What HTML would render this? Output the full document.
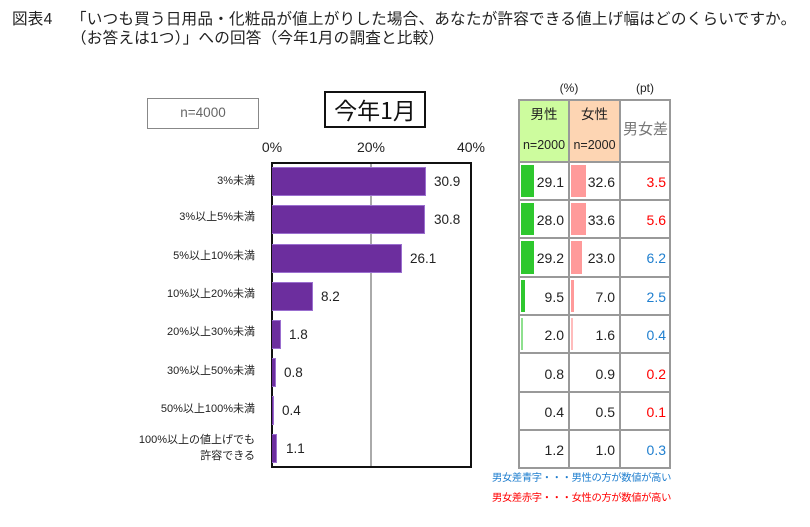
<!DOCTYPE html>
<html><head><meta charset="utf-8">
<style>
*{margin:0;padding:0;box-sizing:border-box}
body{width:810px;height:527px;background:#fff;position:relative;overflow:hidden;font-family:"Liberation Sans","Noto Sans CJK JP",sans-serif;color:#222}
.a{position:absolute;white-space:nowrap}
.t{font-size:15.6px;line-height:19px;letter-spacing:0.2px}
.lab{font-size:11px;line-height:13px;text-align:right;width:130px;left:125px}
.bar{position:absolute;left:272px;height:29px;background:#6c2e9e;border:1px solid #9b6fcf;border-left:none}
.val{font-size:13.5px;line-height:16px}
.ax{font-size:14px;line-height:16px;text-align:center;width:60px}
.num{font-size:14px;line-height:16px;text-align:right;width:45px}
.g{position:absolute;background:#2ec82e}
.p{position:absolute;background:#ff9a9a}
.r{color:#ff0000}.b{color:#1f7fcf}
</style></head><body>
<div class="a t" style="left:12px;top:10px">図表4</div>
<div class="a t" style="left:71px;top:10px">「いつも買う日用品・化粧品が値上がりした場合、あなたが許容できる値上げ幅はどのくらいですか。</div>
<div class="a t" style="left:71px;top:29px">（お答えは1つ）」への回答（今年1月の調査と比較）</div>

<div class="a" style="left:147px;top:98px;width:112px;height:31px;border:1.5px solid #888;font-size:13.5px;line-height:28px;text-align:center;color:#666">n=4000</div>
<div class="a" style="left:324px;top:91px;width:102px;height:37px;border:2px solid #111;font-size:23px;line-height:33px;text-align:center;color:#111;font-family:'Noto Sans CJK JP','Liberation Sans',sans-serif">今年1月</div>

<div class="a ax" style="left:242px;top:139px">0%</div>
<div class="a ax" style="left:341px;top:139px">20%</div>
<div class="a ax" style="left:441px;top:139px">40%</div>

<!-- plot -->
<div class="a" style="left:370px;top:163px;width:2px;height:304px;background:#aaa"></div>
<div class="a" style="left:271px;top:162px;width:201px;height:306px;border:2px solid #111"></div>

<div class="bar" style="top:167px;width:154px"></div>
<div class="bar" style="top:205px;width:153px"></div>
<div class="bar" style="top:244px;width:130px"></div>
<div class="bar" style="top:282px;width:41px"></div>
<div class="bar" style="top:320px;width:9px"></div>
<div class="bar" style="top:358px;width:4px"></div>
<div class="bar" style="top:396px;width:2px"></div>
<div class="bar" style="top:434px;width:5px"></div>

<div class="a val" style="left:434px;top:174px">30.9</div>
<div class="a val" style="left:434px;top:212px">30.8</div>
<div class="a val" style="left:410px;top:251px">26.1</div>
<div class="a val" style="left:321px;top:289px">8.2</div>
<div class="a val" style="left:289px;top:327px">1.8</div>
<div class="a val" style="left:284px;top:365px">0.8</div>
<div class="a val" style="left:282px;top:403px">0.4</div>
<div class="a val" style="left:286px;top:441px">1.1</div>

<div class="a lab" style="top:175px">3%未満</div>
<div class="a lab" style="top:211px">3%以上5%未満</div>
<div class="a lab" style="top:250px">5%以上10%未満</div>
<div class="a lab" style="top:288px">10%以上20%未満</div>
<div class="a lab" style="top:326px">20%以上30%未満</div>
<div class="a lab" style="top:365px">30%以上50%未満</div>
<div class="a lab" style="top:403px">50%以上100%未満</div>
<div class="a lab" style="top:432px;line-height:16px">100%以上の値上げでも<br>許容できる</div>

<!-- table -->
<div class="a" style="left:552px;top:81px;width:34px;font-size:12px;line-height:14px;text-align:center">(%)</div>
<div class="a" style="left:627px;top:81px;width:36px;font-size:12px;line-height:14px;text-align:center">(pt)</div>

<div class="a" style="left:519px;top:100px;width:50px;height:62px;background:#cdfc9e"></div>
<div class="a" style="left:569px;top:100px;width:51px;height:62px;background:#fdd5b3"></div>
<div class="a" style="left:519px;top:107px;width:50px;text-align:center;font-size:13.5px;line-height:16px">男性</div>
<div class="a" style="left:569px;top:107px;width:51px;text-align:center;font-size:13.5px;line-height:16px">女性</div>
<div class="a" style="left:517px;top:137px;width:54px;text-align:center;font-size:12.5px;line-height:16px">n=2000</div>
<div class="a" style="left:567px;top:137px;width:55px;text-align:center;font-size:12.5px;line-height:16px">n=2000</div>
<div class="a" style="left:620px;top:121px;width:51px;text-align:center;font-size:15px;line-height:18px;color:#777">男女差</div>

<!-- bars in table -->
<div class="g" style="left:521px;top:165px;width:13px;height:32px"></div>
<div class="p" style="left:571px;top:165px;width:15px;height:32px"></div>
<div class="g" style="left:521px;top:203px;width:13px;height:32px"></div>
<div class="p" style="left:571px;top:203px;width:15px;height:32px"></div>
<div class="g" style="left:521px;top:241px;width:13px;height:33px"></div>
<div class="p" style="left:571px;top:241px;width:11px;height:33px"></div>
<div class="g" style="left:521px;top:280px;width:4px;height:32px"></div>
<div class="p" style="left:571px;top:280px;width:3px;height:32px"></div>
<div class="g" style="left:521px;top:318px;width:1.5px;height:32px;background:#8ee08e"></div>
<div class="p" style="left:571px;top:318px;width:1.5px;height:32px;background:#ffbcbc"></div>

<!-- grid lines -->
<div class="a" style="left:518px;top:99px;width:153px;height:370px;border:2px solid #999"></div>
<div class="a" style="left:568px;top:99px;width:2px;height:370px;background:#999"></div>
<div class="a" style="left:619px;top:99px;width:2px;height:370px;background:#999"></div>
<div class="a" style="left:518px;top:161px;width:153px;height:2px;background:#999"></div>
<div class="a" style="left:518px;top:199px;width:153px;height:2px;background:#999"></div>
<div class="a" style="left:518px;top:237px;width:153px;height:2px;background:#999"></div>
<div class="a" style="left:518px;top:276px;width:153px;height:2px;background:#999"></div>
<div class="a" style="left:518px;top:314px;width:153px;height:2px;background:#999"></div>
<div class="a" style="left:518px;top:352px;width:153px;height:2px;background:#999"></div>
<div class="a" style="left:518px;top:391px;width:153px;height:2px;background:#999"></div>
<div class="a" style="left:518px;top:429px;width:153px;height:2px;background:#999"></div>

<!-- numbers -->
<div class="a num" style="left:519px;top:174px">29.1</div>
<div class="a num" style="left:570px;top:174px">32.6</div>
<div class="a num r" style="left:621px;top:174px">3.5</div>
<div class="a num" style="left:519px;top:212px">28.0</div>
<div class="a num" style="left:570px;top:212px">33.6</div>
<div class="a num r" style="left:621px;top:212px">5.6</div>
<div class="a num" style="left:519px;top:250px">29.2</div>
<div class="a num" style="left:570px;top:250px">23.0</div>
<div class="a num b" style="left:621px;top:250px">6.2</div>
<div class="a num" style="left:519px;top:289px">9.5</div>
<div class="a num" style="left:570px;top:289px">7.0</div>
<div class="a num b" style="left:621px;top:289px">2.5</div>
<div class="a num" style="left:519px;top:327px">2.0</div>
<div class="a num" style="left:570px;top:327px">1.6</div>
<div class="a num b" style="left:621px;top:327px">0.4</div>
<div class="a num" style="left:519px;top:366px">0.8</div>
<div class="a num" style="left:570px;top:366px">0.9</div>
<div class="a num r" style="left:621px;top:366px">0.2</div>
<div class="a num" style="left:519px;top:404px">0.4</div>
<div class="a num" style="left:570px;top:404px">0.5</div>
<div class="a num r" style="left:621px;top:404px">0.1</div>
<div class="a num" style="left:519px;top:442px">1.2</div>
<div class="a num" style="left:570px;top:442px">1.0</div>
<div class="a num b" style="left:621px;top:442px">0.3</div>

<div class="a b" style="left:492px;top:472px;font-size:10.3px;line-height:14px;letter-spacing:-0.35px">男女差青字・・・男性の方が数値が高い</div>
<div class="a r" style="left:492px;top:492px;font-size:10.3px;line-height:14px;letter-spacing:-0.35px">男女差赤字・・・女性の方が数値が高い</div>
</body></html>
